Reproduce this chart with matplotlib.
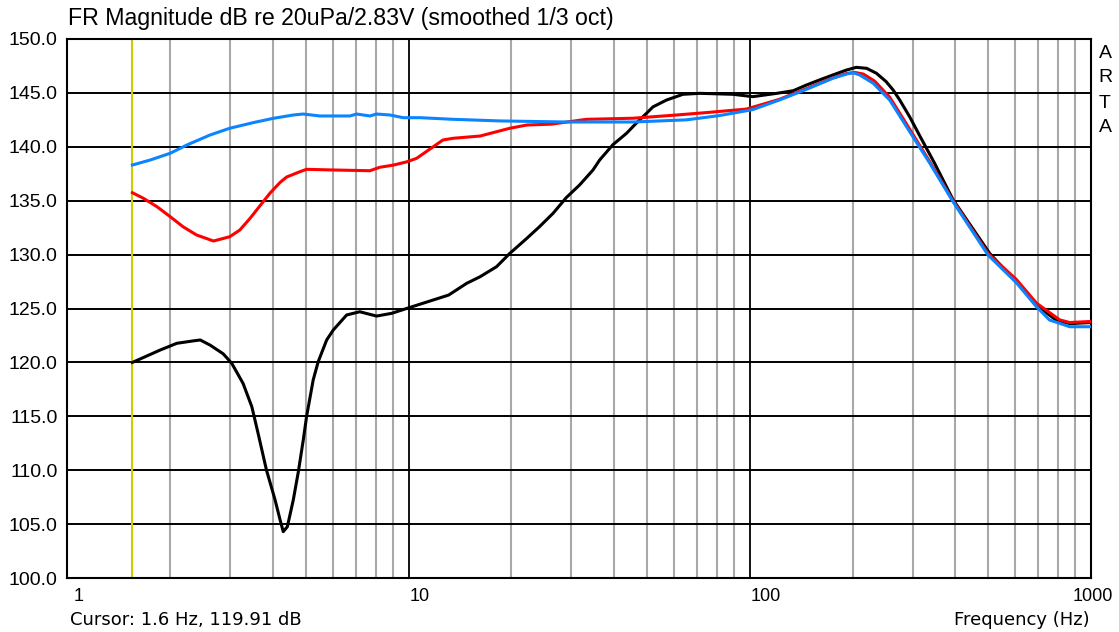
import numpy as np
import matplotlib
matplotlib.use('Agg')
import matplotlib.pyplot as plt

# curves (Hz, dB)
black_f = [1.55, 1.87, 2.09, 2.34, 2.45, 2.62, 2.86, 3.03, 3.27, 3.47, 3.62, 3.83, 4.06, 4.20, 4.29,
           4.41, 4.59, 4.75, 4.91, 5.02, 5.25, 5.43, 5.75, 6.01, 6.58, 7.19, 8.05, 8.91, 9.97,
           11.8, 13.1, 14.8, 16.2, 18.1, 19.8, 22.2, 24.2, 26.5, 29.0, 31.7, 34.7, 36.3, 39.7,
           43.5, 46.5, 49.8, 52.0, 57.0, 63.7, 71.3, 89.3, 102, 120, 134, 146.5, 160, 175, 192,
           205, 220, 235, 251, 263, 275, 294, 315, 348, 394, 505, 590, 707, 791, 866, 1000]
black_db = [120.0, 121.15, 121.77, 122.0, 122.08, 121.6, 120.8, 119.92, 118.06, 115.89, 113.42, 110.02,
            107.24, 105.38, 104.3, 104.76, 107.24, 109.86, 112.8, 114.96, 118.37, 120.06, 122.08, 123.0,
            124.4, 124.7, 124.3, 124.55, 125.05, 125.79, 126.25, 127.34, 127.95, 128.88, 130.12, 131.51,
            132.6, 133.83, 135.3, 136.46, 137.85, 138.78, 140.2, 141.25, 142.2, 143.11, 143.7, 144.34,
            144.87, 144.96, 144.87, 144.65, 144.96, 145.2, 145.73, 146.2, 146.66, 147.12, 147.37,
            147.28, 146.82, 146.04, 145.27, 144.34, 142.79, 141.0, 138.47, 135.1, 130.1, 127.8,
            125.1, 123.9, 123.6, 123.7]

red_f = [1.55, 1.67, 1.83, 2.0, 2.18, 2.39, 2.68, 2.99, 3.20, 3.43, 3.66, 3.92, 4.20, 4.39, 4.80,
         5.02, 6.01, 7.70, 8.23, 9.01, 9.86, 10.55, 11.8, 12.6, 13.5, 16.2, 18.1, 19.8, 22.2, 26.2,
         33.2, 45.5, 61.0, 76.3, 97.7, 122, 146.5, 175, 192, 203, 215, 232, 257, 288, 337, 394,
         499, 604, 692, 809, 866, 1000]
red_db = [135.74, 135.22, 134.44, 133.52, 132.59, 131.82, 131.26, 131.66, 132.28, 133.37, 134.5,
          135.69, 136.7, 137.2, 137.69, 137.91, 137.85, 137.78, 138.1, 138.3, 138.6, 138.93, 140.0,
          140.63, 140.79, 141.0, 141.4, 141.72, 142.02, 142.1, 142.55, 142.65, 142.95, 143.2, 143.5,
          144.4, 145.4, 146.4, 146.8, 146.9, 146.75, 146.1, 144.6, 142.1, 138.6, 135.0, 130.1,
          127.7, 125.5, 123.95, 123.7, 123.8]

blue_f = [1.55, 1.75, 2.0, 2.24, 2.62, 2.99, 3.50, 4.01, 4.59, 4.91, 5.49, 6.73, 7.04, 7.70, 8.05,
          8.81, 9.64, 10.8, 13.5, 18.5, 29.0, 45.5, 65.2, 81.6, 102, 122, 146.5, 175, 192, 201,
          210, 230, 257, 288, 337, 394, 499, 604, 692, 756, 809, 866, 1000]
blue_db = [138.31, 138.78, 139.4, 140.17, 141.1, 141.72, 142.24, 142.64, 142.95, 143.04, 142.86,
           142.86, 143.04, 142.86, 143.04, 142.95, 142.7, 142.7, 142.55, 142.4, 142.3, 142.3, 142.5,
           142.9, 143.45, 144.34, 145.33, 146.35, 146.75, 146.87, 146.66, 145.89, 144.34, 141.86,
           138.47, 134.91, 129.96, 127.4, 125.17, 123.93, 123.63, 123.31, 123.31]

cursor_f = 1.55
y_ticks = [100, 105, 110, 115, 120, 125, 130, 135, 140, 145, 150]
x_ticks = [1, 10, 100, 1000]

plt.rcParams['font.family'] = ['Liberation Sans', 'DejaVu Sans']

fig = plt.figure(figsize=(11.19, 6.32), dpi=100)
ax = fig.add_axes([0.0603, 0.0854, 0.9147, 0.8529])

ax.set_xscale('log')
ax.set_xlim(1, 1000)
ax.set_ylim(100, 150)

minor = [m * d for d in (1, 10, 100) for m in range(2, 10)]
ax.set_xticks(x_ticks)
ax.set_xticks(minor, minor=True)
ax.set_yticks(y_ticks)
ax.set_xticklabels([])
ax.set_xticklabels([], minor=True)
ax.set_yticklabels(['%.1f' % v for v in y_ticks], fontsize=14)
ax.tick_params(which='both', length=0)
ax.tick_params(axis='y', pad=7)

ax.grid(which='minor', axis='x', color='#a8a8a8', lw=1.5, zorder=0)
ax.grid(which='major', axis='x', color='black', lw=1.3, zorder=0)
ax.grid(which='major', axis='y', color='black', lw=1.4, zorder=0)
ax.set_axisbelow(True)
for s in ax.spines.values():
    s.set_linewidth(1.5)

ax.axvline(cursor_f, color='#cccc00', lw=1.5, zorder=1)

ax.plot(black_f, black_db, color='black', lw=2.2, zorder=2)
ax.plot(red_f, red_db, color='#ff0000', lw=2.2, zorder=3)
ax.plot(blue_f, blue_db, color='#0a84ff', lw=2.2, zorder=4)

# x tick labels ARTA style
xt = ax.get_xaxis_transform()
for i, f in enumerate(x_ticks):
    if i == 0:
        ax.text(f * 1.04, -0.018, str(f), transform=xt, ha='left', va='top', fontsize=13)
    elif i < 3:
        ax.text(f * 1.005, -0.018, str(f), transform=xt, ha='left', va='top', fontsize=13)
    else:
        ax.text(f * 1.012, -0.018, str(f), transform=xt, ha='center', va='top', fontsize=13)

fig.text(68 / 1119, 1 - 18 / 632, 'FR Magnitude dB re 20uPa/2.83V (smoothed 1/3 oct)',
         fontsize=16.7, ha='left', va='center')
fig.text(70 / 1119, 1 - 620 / 632, 'Cursor: 1.6 Hz, 119.91 dB', fontsize=13, ha='left', va='center',
         family='DejaVu Sans')
fig.text(1090 / 1119, 1 - 620 / 632, 'Frequency (Hz)', fontsize=13, ha='right', va='center',
         family='DejaVu Sans')
for i, ch in enumerate('ARTA'):
    fig.text(1105 / 1119, 1 - (53 + i * 25) / 632, ch, fontsize=14, ha='center', va='center')

fig.savefig('out.png', dpi=100)
